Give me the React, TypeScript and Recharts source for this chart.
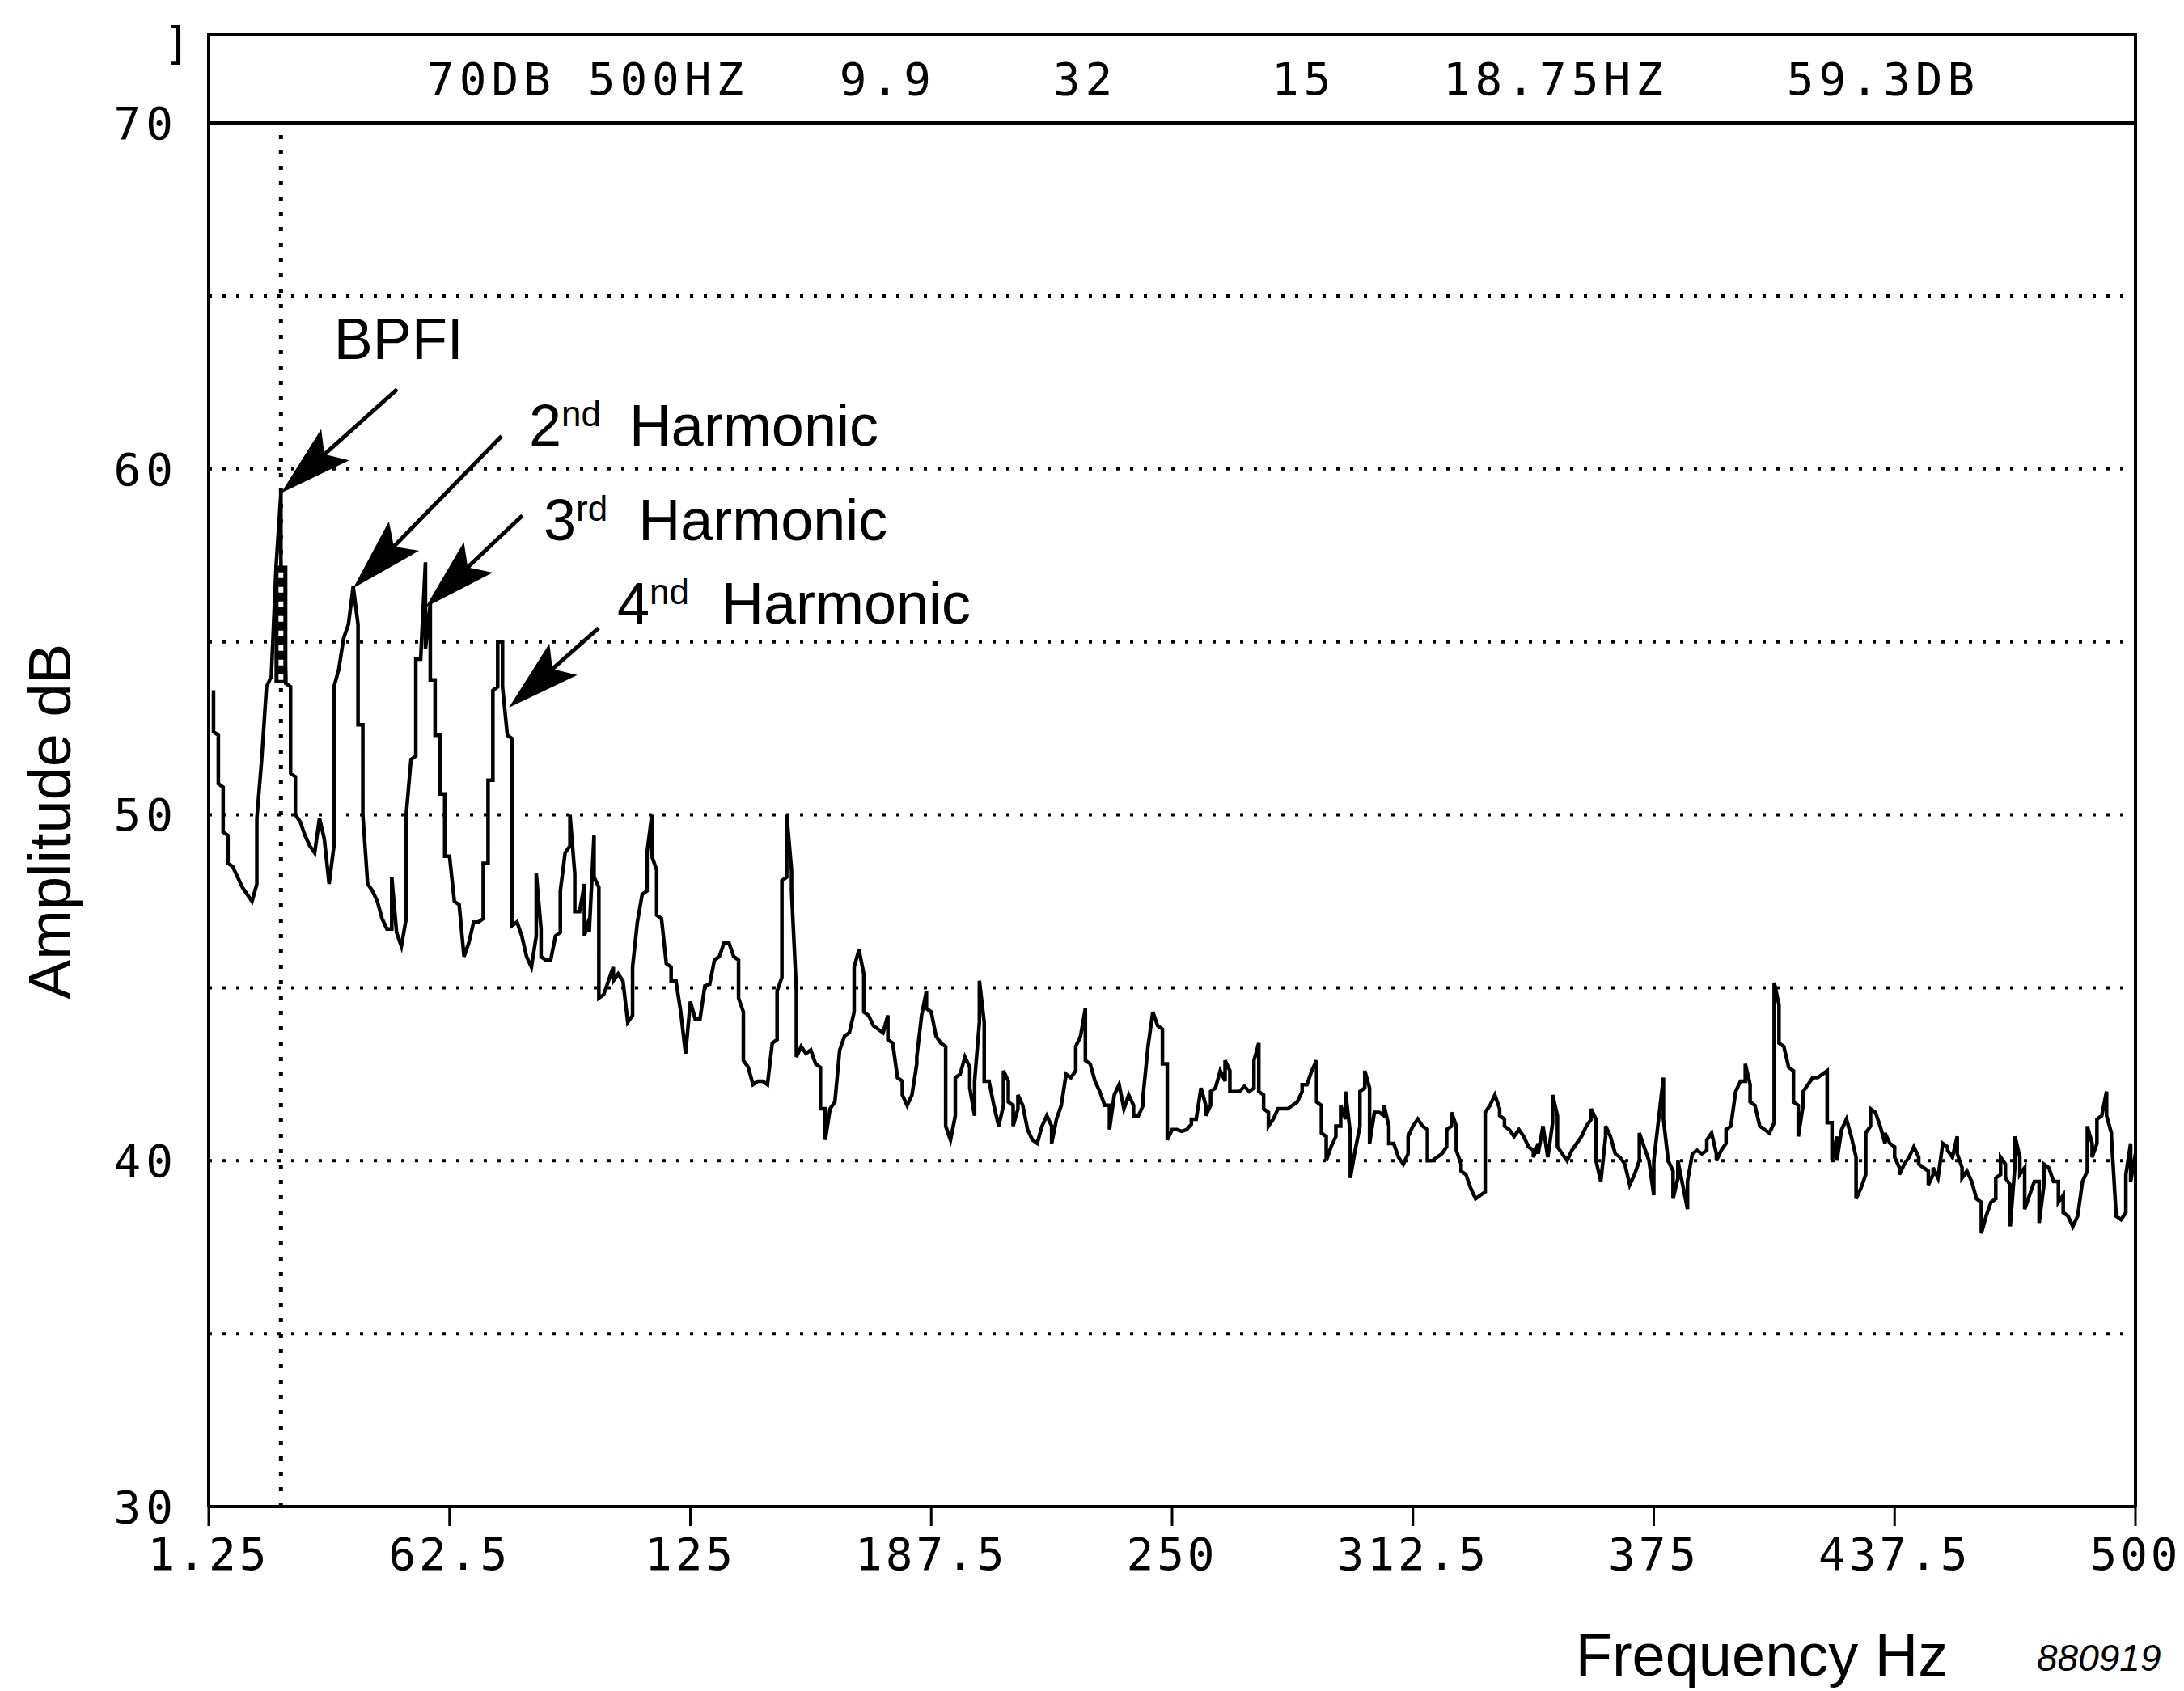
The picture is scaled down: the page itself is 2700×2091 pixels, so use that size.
import React from "react";
import {
  LineChart,
  Line,
  XAxis,
  YAxis,
  ReferenceLine,
  ReferenceArea,
  ReferenceDot,
} from "recharts";

// spectrum as [Hz, dB] vertices (pairs at one Hz draw the vertical strokes)
const harmonicBand: [number, number][] = [
  [1.25, 53.6], [1.25, 52.4], [2.5, 52.3], [2.5, 50.9], [3.75, 50.8], [3.75, 49.5], [5, 49.4], [5, 48.6],
  [6.25, 48.5], [7.5, 48.2], [8.75, 47.9], [10, 47.7], [11.25, 47.5], [12.5, 48.0], [12.5, 49.9], [13.75, 51.6],
  [15, 53.7], [16.25, 54.0], [17.5, 57.2], [18.75, 59.3], [18.75, 57.2], [20, 54.0], [20, 53.8], [21.25, 53.7],
  [21.25, 51.2], [22.5, 51.1], [22.5, 50.0], [23.75, 49.8], [25, 49.4], [26.25, 49.1], [27.5, 48.9], [28.75, 49.9],
  [30, 49.3], [31.25, 48.0], [32.5, 49.1], [32.5, 53.7], [33.75, 54.2], [35, 55.1], [36.25, 55.5], [37.5, 56.6],
  [38.75, 55.5], [38.75, 52.6], [40, 52.6], [40, 50.0], [41.25, 48.0], [42.5, 47.8], [43.75, 47.5], [45, 47.0],
  [46.25, 46.7], [47.5, 46.7], [47.5, 48.2], [48.75, 46.6], [50, 46.2], [51.25, 47.0], [51.25, 50.0], [52.5, 51.6],
  [53.75, 51.7], [53.75, 54.5], [55, 54.5], [56.25, 57.3], [56.25, 54.8], [57.5, 56.1], [57.5, 53.9], [58.75, 53.9],
  [58.75, 52.3], [60, 52.3], [60, 50.6], [61.25, 50.6], [61.25, 48.8], [62.5, 48.8], [63.75, 47.5], [65, 47.4],
  [66.25, 45.9], [67.5, 46.3], [68.75, 46.9], [70, 46.9], [71.25, 47.0], [71.25, 48.6], [72.5, 48.6], [72.5, 51.0],
  [73.75, 51.0], [73.75, 53.6], [75, 53.7], [75, 55.0], [76.25, 55.0], [76.25, 53.7], [77.5, 52.3], [78.75, 52.2],
  [78.75, 46.8], [80, 46.9], [81.25, 46.5], [82.5, 45.9], [83.75, 45.6],
];

const lowMidBand: [number, number][] = [
  [85, 46.5], [85, 48.3], [86.25, 46.7], [86.25, 45.9], [87.5, 45.8], [88.75, 45.8], [90, 46.5], [91.25, 46.6],
  [91.25, 47.8], [92.5, 48.9], [93.75, 49.1], [93.75, 50.0], [95, 48.3], [95, 47.2], [96.25, 47.2], [97.5, 48.0],
  [97.5, 46.5], [98.75, 47.0], [98.75, 46.6], [100, 49.4], [100, 48.2], [101.25, 47.9], [101.25, 44.7], [102.5, 44.8],
  [103.75, 45.2], [105, 45.6], [105, 45.2], [106.25, 45.4], [107.5, 45.2], [108.75, 44.0], [110, 44.2], [110, 45.6],
  [111.25, 46.9], [112.5, 47.7], [113.75, 47.8], [113.75, 48.9], [115, 50.0], [115, 48.8], [116.25, 48.4], [116.25, 47.1],
  [117.5, 47.0], [118.75, 45.7], [120, 45.6], [120, 45.2], [121.25, 45.2], [122.5, 44.3], [123.75, 43.1], [125, 44.6],
  [126.25, 44.1], [127.5, 44.1], [128.75, 45.05], [130, 45.1], [131.25, 45.8], [132.5, 45.9], [133.75, 46.3], [135, 46.3],
  [136.25, 45.9], [137.5, 45.8], [137.5, 44.7], [138.75, 44.3], [138.75, 42.9], [140, 42.7], [141.25, 42.2], [142.5, 42.3],
  [143.75, 42.3], [145, 42.2], [146.25, 43.4], [147.5, 43.5], [147.5, 44.9], [148.75, 45.3], [148.75, 48.1], [150, 48.2],
  [150, 50.0], [151.25, 48.4], [151.25, 47.8], [152.5, 44.9], [152.5, 43.0], [153.75, 43.3], [155, 43.1], [156.25, 43.2],
  [157.5, 42.8], [158.75, 42.7], [158.75, 41.5], [160, 41.5], [160, 40.6], [161.25, 41.5], [162.5, 41.7], [163.75, 43.2],
  [165, 43.6], [166.25, 43.7],
];

const midBand: [number, number][] = [
  [167.5, 44.3], [167.5, 45.6], [168.75, 46.1], [170, 45.4], [170, 44.3], [171.25, 44.2], [172.5, 43.9], [173.75, 43.8],
  [175, 43.7], [176.25, 44.2], [176.25, 43.5], [177.5, 43.4], [178.75, 42.4], [180, 42.3], [180, 41.9], [181.25, 41.6],
  [182.5, 41.9], [183.75, 42.8], [183.75, 43.0], [185, 44.2], [186.25, 44.9], [186.25, 44.4], [187.5, 44.3], [188.75, 43.6],
  [190, 43.4], [191.25, 43.3], [191.25, 41.0], [192.5, 40.6], [193.75, 41.3], [193.75, 42.4], [195, 42.5], [196.25, 43.0],
  [197.5, 42.7], [197.5, 42.1], [198.75, 41.3], [198.75, 42.3], [200, 44.0], [200, 45.2], [201.25, 44.0], [201.25, 42.3],
  [202.5, 42.3], [203.75, 41.6], [205, 41.0], [206.25, 41.6], [206.25, 42.6], [207.5, 42.3], [207.5, 41.7], [208.75, 41.6],
  [208.75, 41.0], [210, 41.5], [210, 41.9], [211.25, 41.6], [212.5, 40.9], [213.75, 40.6], [215, 40.5], [216.25, 41.0],
  [217.5, 41.3], [218.75, 41.0], [218.75, 40.5], [220, 41.2], [221.25, 41.6], [222.5, 42.5], [223.75, 42.4], [225, 42.6],
  [225, 43.3], [226.25, 43.6], [227.5, 44.4], [227.5, 42.9], [228.75, 42.8], [230, 42.3], [231.25, 42.0], [232.5, 41.6],
  [233.75, 41.6], [233.75, 40.9], [235, 41.9], [236.25, 42.2], [237.5, 41.5], [238.75, 41.9], [240, 41.6], [240, 41.3],
  [241.25, 41.3], [242.5, 41.6], [242.5, 41.9], [243.75, 43.3], [245, 44.3], [246.25, 43.9], [247.5, 43.8], [247.5, 42.8],
  [248.75, 42.8], [248.75, 40.6], [250, 40.9],
];

const upperMidBand: [number, number][] = [
  [251.25, 40.9], [252.5, 40.85], [253.75, 40.9], [255, 41.05], [255, 41.2], [256.25, 41.2], [257.5, 42.1], [258.75, 41.6],
  [258.75, 41.3], [260, 41.6], [260, 42.0], [261.25, 42.1], [262.5, 42.6], [263.75, 42.3], [263.75, 42.9], [265, 42.6],
  [265, 42.0], [266.25, 42.0], [267.5, 42.0], [268.75, 42.15], [270, 42.0], [271.25, 42.1], [271.25, 42.9], [272.5, 43.4],
  [272.5, 42.0], [273.75, 41.9], [273.75, 41.5], [275, 41.4], [275, 41.0], [276.25, 41.2], [277.5, 41.5], [278.75, 41.5],
  [280, 41.5], [281.25, 41.6], [282.5, 41.7], [283.75, 42.0], [283.75, 42.2], [285, 42.2], [286.25, 42.6], [287.5, 42.9],
  [287.5, 41.7], [288.75, 41.6], [288.75, 40.8], [290, 40.7], [290, 40.0], [291.25, 40.4], [292.5, 40.7], [292.5, 41.0],
  [293.75, 41.0], [293.75, 41.6], [295, 41.2], [295, 42.0], [296.25, 40.8], [296.25, 39.5], [297.5, 40.3], [298.75, 41.0],
  [298.75, 42.0], [300, 42.1], [300, 42.6], [301.25, 42.1], [301.25, 40.5], [302.5, 41.4], [303.75, 41.4], [305, 41.3],
  [305, 41.6], [306.25, 41.0], [306.25, 40.5], [307.5, 40.5], [308.75, 40.1], [310, 39.9], [311.25, 40.2], [311.25, 40.7],
  [312.5, 41.0], [313.75, 41.2], [315, 41.0], [316.25, 40.9], [316.25, 40.0], [317.5, 40.0], [318.75, 40.1], [320, 40.2],
  [321.25, 40.4], [321.25, 40.9], [322.5, 41.0], [322.5, 41.4], [323.75, 41.0], [323.75, 40.3], [325, 39.9], [325, 39.7],
  [326.25, 39.6], [327.5, 39.2], [328.75, 38.9], [330, 39.0], [331.25, 39.1], [331.25, 41.4], [332.5, 41.6], [333.75, 41.9],
  [335, 41.5], [335, 41.3], [336.25, 41.2], [336.25, 41.0], [337.5, 40.9], [338.75, 40.7], [340, 40.9], [341.25, 40.7],
  [342.5, 40.4], [343.75, 40.3], [343.75, 40.1],
];

const highBand: [number, number][] = [
  [345, 40.5], [345, 40.2], [346.25, 41.0], [347.5, 40.1], [348.75, 41.1], [348.75, 41.9], [350, 41.3], [350, 40.4],
  [351.25, 40.2], [352.5, 40.0], [353.75, 40.3], [355, 40.5], [356.25, 40.7], [357.5, 41.0], [358.75, 41.2], [358.75, 41.5],
  [360, 41.2], [360, 40.0], [361.25, 39.4], [362.5, 40.7], [362.5, 41.0], [363.75, 40.7], [365, 40.2], [366.25, 40.1],
  [367.5, 39.9], [368.75, 39.3], [370, 39.6], [371.25, 40.0], [371.25, 40.8], [372.5, 40.4], [373.75, 40.0], [375, 39.0],
  [375, 40.0], [376.25, 41.2], [377.5, 42.4], [377.5, 41.2], [378.75, 40.0], [380, 39.7], [380, 38.9], [381.25, 39.5],
  [381.25, 40.0], [382.5, 39.3], [383.75, 38.6], [383.75, 39.4], [385, 40.2], [386.25, 40.3], [387.5, 40.2], [388.75, 40.3],
  [388.75, 40.6], [390, 40.8], [391.25, 40.2], [391.25, 40.0], [392.5, 40.3], [393.75, 40.5], [393.75, 40.9], [395, 41.0],
  [396.25, 42.0], [397.5, 42.3], [398.75, 42.3], [398.75, 42.8], [400, 42.2], [400, 41.7], [401.25, 41.6], [402.5, 41.0],
  [403.75, 40.9], [405, 40.8], [406.25, 41.1], [406.25, 45.15], [407.5, 44.5], [407.5, 43.4], [408.75, 43.3], [410, 42.7],
  [411.25, 42.6], [411.25, 41.7], [412.5, 41.6], [412.5, 40.7], [413.75, 41.6], [413.75, 42.0], [415, 42.2], [416.25, 42.4],
  [417.5, 42.4], [418.75, 42.5], [420, 42.6], [420, 41.1], [421.25, 41.1], [421.25, 40.0], [422.5, 40.7],
];

const topBand: [number, number][] = [
  [422.5, 40.0], [423.75, 40.9], [425, 41.2], [426.25, 40.7], [427.5, 40.1], [427.5, 38.9], [428.75, 39.2], [430, 39.6],
  [430, 40.8], [431.25, 41.0], [431.25, 41.5], [432.5, 41.4], [433.75, 41.0], [435, 40.5], [435, 40.8], [436.25, 40.5],
  [437.5, 40.4], [437.5, 40.1], [438.75, 39.8], [438.75, 39.6], [440, 39.9], [441.25, 40.1], [442.5, 40.4], [443.75, 40.1],
  [443.75, 39.9], [445, 39.8], [446.25, 39.7], [446.25, 39.3], [447.5, 39.6], [447.5, 39.8], [448.75, 39.5], [450, 40.5],
  [451.25, 40.4], [451.25, 40.3], [452.5, 40.1], [453.75, 40.7], [453.75, 40.2], [455, 39.8], [455, 39.5], [456.25, 39.7],
  [457.5, 39.4], [458.75, 38.9], [460, 38.8], [460, 37.9], [461.25, 38.4], [462.5, 38.8], [463.75, 38.9], [463.75, 39.5],
  [465, 39.6], [465, 40.1], [466.25, 39.9], [466.25, 39.5], [467.5, 39.3], [467.5, 38.1], [468.75, 39.9], [468.75, 40.7],
  [470, 40.1], [470, 39.6], [471.25, 39.8], [471.25, 38.6], [472.5, 39.0], [473.75, 39.4], [475, 39.4], [475, 38.2],
  [476.25, 39.3], [476.25, 39.9], [477.5, 39.8], [478.75, 39.4], [480, 39.4], [480, 38.8], [481.25, 39.0], [481.25, 38.5],
  [482.5, 38.4], [483.75, 38.1], [485, 38.4], [486.25, 39.4], [487.5, 39.7], [487.5, 41.0], [488.75, 40.5], [488.75, 40.1],
  [490, 40.5], [490, 41.2], [491.25, 41.3], [492.5, 42.0], [492.5, 41.3], [493.75, 40.8], [493.75, 40.7], [495, 38.4],
  [496.25, 38.3], [497.5, 38.5], [497.5, 39.6], [498.75, 40.5], [498.75, 39.4], [500, 40.2],
];

const freqTicks = [0, 62.5, 125, 187.5, 250, 312.5, 375, 437.5, 500];
const freqTickLabels = ["1.25", "62.5", "125", "187.5", "250", "312.5", "375", "437.5", "500"];
const ampTicks = [30, 40, 50, 60, 70];
const gridLevels = [35, 40, 45, 50, 55, 60, 65];
const cursorHz = 18.75;

const headerTexts = ["70DB 500HZ", "9.9", "32", "15", "18.75HZ", "59.3DB"];
const peakNames = [
  { base: "BPFI", sup: "", rest: "" },
  { base: "2", sup: "nd", rest: "Harmonic" },
  { base: "3", sup: "rd", rest: "Harmonic" },
  { base: "4", sup: "nd", rest: "Harmonic" },
];

const spectrum = [...harmonicBand, ...lowMidBand, ...midBand, ...upperMidBand, ...highBand, ...topBand].map(
  ([hz, db]) => ({ hz, db })
);

// layout (data coordinates)
const headerAt = [56.7, 163.7, 219.1, 275.8, 320.3, 409.5];
const headerMid = 71.27;
const labelAt = [
  { hz: 32.5, db: 63.17, gap: 0 },
  { hz: 83.1, db: 60.67, gap: 35 },
  { hz: 86.9, db: 57.94, gap: 38 },
  { hz: 106, db: 55.53, gap: 40 },
];
const arrows = [
  { from: [48.9, 62.3], to: [18.75, 59.3] },
  { from: [76.0, 60.95], to: [37.5, 56.55] },
  { from: [81.4, 58.65], to: [56.25, 56.0] },
  { from: [101.2, 55.4], to: [77.9, 53.1] },
];

const MONO = "'DejaVu Sans Mono', monospace";
const SANS = "'Liberation Sans', Arial, sans-serif";

const Arrow = (props: any) => {
  const { x1, y1, x2, y2 } = props;
  const a = Math.atan2(y2 - y1, x2 - x1);
  const len = 90;
  const half = 26;
  const cx = Math.cos(a);
  const sy = Math.sin(a);
  const bx = x2 - len * cx;
  const by = y2 - len * sy;
  const nx = x2 - len * 0.8 * cx;
  const ny = y2 - len * 0.8 * sy;
  const px = -sy * half;
  const py = cx * half;
  return (
    <g>
      <line x1={x1} y1={y1} x2={nx} y2={ny} stroke="#000" strokeWidth={5} />
      <polygon
        points={`${x2},${y2} ${bx + px},${by + py} ${nx},${ny} ${bx - px},${by - py}`}
        fill="#000"
      />
    </g>
  );
};

export default function App() {
  return (
    <div style={{ position: "absolute", left: 0, top: 0, width: 2700, height: 2091, background: "#fff" }}>
      <LineChart
        width={2700}
        height={2091}
        data={spectrum}
        margin={{ top: 43, right: 60, bottom: 0, left: 0 }}
      >
        <XAxis
          type="number"
          dataKey="hz"
          domain={[0, 500]}
          ticks={freqTicks}
          interval={0}
          tickFormatter={(v: number) => freqTickLabels[freqTicks.indexOf(v)]}
          height={228}
          axisLine={{ stroke: "#000", strokeWidth: 4 }}
          tickLine={{ stroke: "#000", strokeWidth: 3 }}
          tickSize={24}
          tickMargin={14}
          tick={{ fill: "#000", fontSize: 56, fontFamily: MONO, letterSpacing: 4 }}
          label={{
            content: () => (
              <g>
                <text x={2178} y={2072} textAnchor="middle" fontSize={74} fontFamily={SANS} fill="#000">
                  Frequency Hz
                </text>
                <text x={2518} y={2066} fontSize={46} fontStyle="italic" fontFamily={SANS} fill="#000">
                  880919
                </text>
              </g>
            ),
          }}
        />
        <YAxis
          type="number"
          domain={[30, 72.55]}
          ticks={ampTicks}
          interval={0}
          width={258}
          axisLine={{ stroke: "#000", strokeWidth: 4 }}
          tickLine={false}
          tickSize={0}
          tickMargin={38}
          tick={{ fill: "#000", fontSize: 56, fontFamily: MONO, letterSpacing: 6 }}
          label={{
            content: () => (
              <text
                transform="translate(87,1016) rotate(-90)"
                textAnchor="middle"
                fontSize={74}
                fontFamily={SANS}
                fill="#000"
              >
                Amplitude dB
              </text>
            ),
          }}
        />

        {gridLevels.map((v) => (
          <ReferenceLine key={v} y={v} stroke="#000" strokeWidth={4} strokeDasharray="4 13" />
        ))}
        <ReferenceArea
          x1={0}
          x2={500}
          y1={70}
          y2={72.55}
          fill="#fff"
          fillOpacity={0}
          stroke="#000"
          strokeWidth={4}
        />
        <ReferenceLine x={500} stroke="#000" strokeWidth={4} />
        <ReferenceLine
          segment={[{ x: cursorHz, y: 30 }, { x: cursorHz, y: 70 }]}
          stroke="#000"
          strokeWidth={5}
          strokeDasharray="5 14"
        />

        <Line
          type="linear"
          dataKey="db"
          stroke="#000"
          strokeWidth={4.5}
          dot={false}
          activeDot={false}
          isAnimationActive={false}
        />

        <ReferenceLine segment={[{ x: cursorHz, y: 53.8 }, { x: cursorHz, y: 57.2 }]} stroke="#000" strokeWidth={16} />
        <ReferenceLine
          segment={[{ x: cursorHz, y: 53.9 }, { x: cursorHz, y: 57.1 }]}
          stroke="#fff"
          strokeWidth={6}
          strokeDasharray="7 11"
        />

        {arrows.map((a, i) => (
          <ReferenceLine
            key={`arrow-${i}`}
            segment={[{ x: a.from[0], y: a.from[1] }, { x: a.to[0], y: a.to[1] }]}
            shape={Arrow}
          />
        ))}

        {headerTexts.map((t, i) => (
          <ReferenceDot
            key={`hdr-${i}`}
            x={headerAt[i]}
            y={headerMid}
            r={0}
            fill="none"
            stroke="none"
            label={(p: any) => (
              <text
                x={p.viewBox.x}
                y={p.viewBox.y}
                dominantBaseline="central"
                fontSize={56}
                fontFamily={MONO}
                letterSpacing={6}
                fill="#000"
              >
                {t}
              </text>
            )}
          />
        ))}

        <ReferenceDot
          x={0}
          y={72.55}
          r={0}
          fill="none"
          stroke="none"
          label={(p: any) => (
            <text x={p.viewBox.x - 56} y={p.viewBox.y + 10} dominantBaseline="central" fontSize={56} fontFamily={MONO} fill="#000">
              ]
            </text>
          )}
        />

        {peakNames.map((n, i) => (
          <ReferenceDot
            key={`name-${i}`}
            x={labelAt[i].hz}
            y={labelAt[i].db}
            r={0}
            fill="none"
            stroke="none"
            label={(p: any) => (
              <text x={p.viewBox.x} y={p.viewBox.y} fontSize={72} fontFamily={SANS} fill="#000">
                <tspan>{n.base}</tspan>
                {n.sup ? (
                  <tspan dy={-24} fontSize={44}>
                    {n.sup}
                  </tspan>
                ) : null}
                {n.rest ? (
                  <tspan dy={24} dx={labelAt[i].gap}>
                    {n.rest}
                  </tspan>
                ) : null}
              </text>
            )}
          />
        ))}
      </LineChart>
    </div>
  );
}
